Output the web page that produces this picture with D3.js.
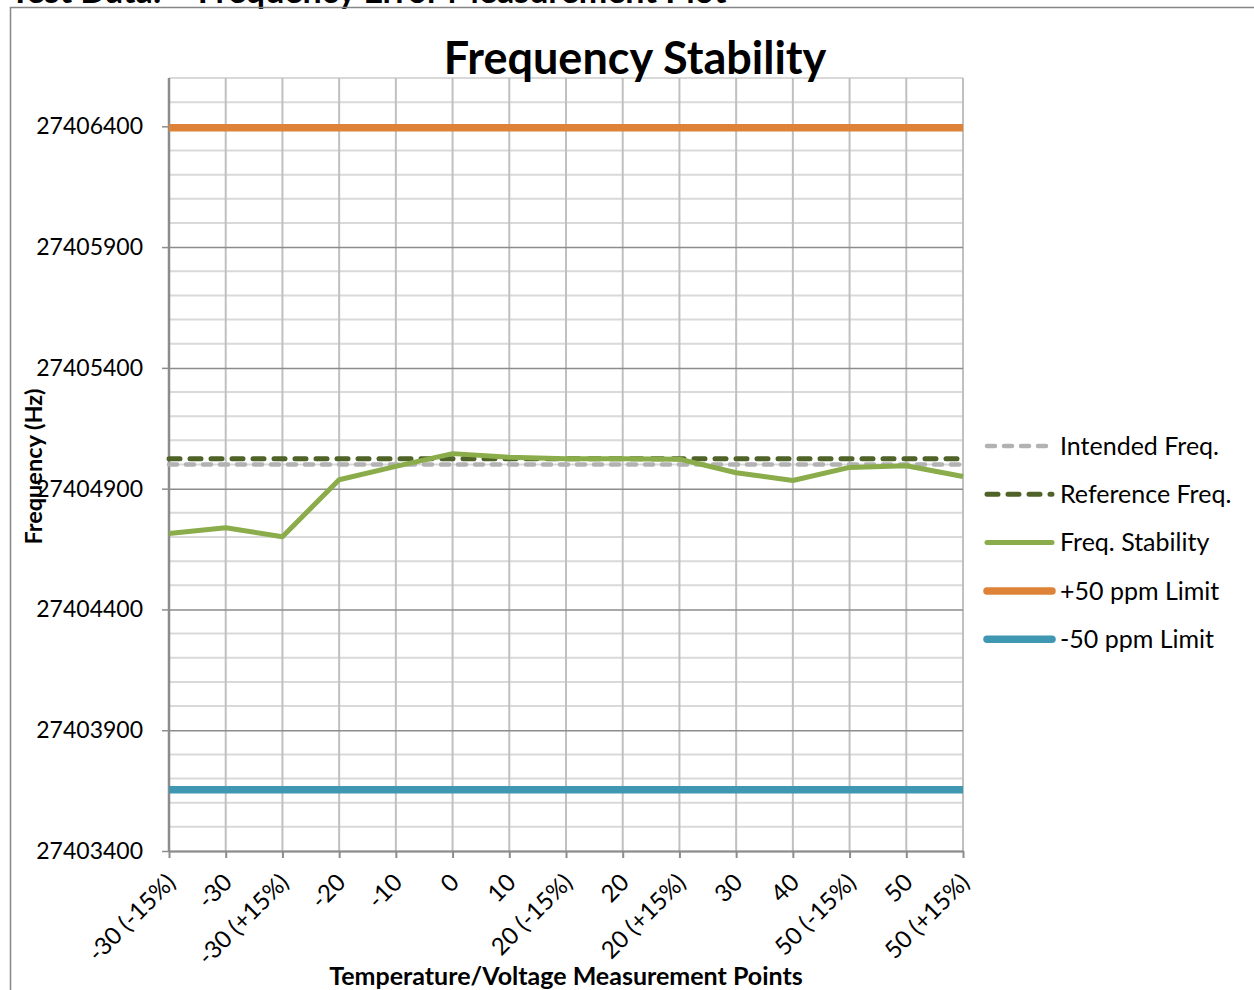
<!DOCTYPE html>
<html>
<head>
<meta charset="utf-8">
<script src="https://cdn.jsdelivr.net/npm/d3@7"></script>
<style>
  body { margin: 0; background: #fff; }
  text { font-family: Lato, "Open Sans", sans-serif; fill: #000; }
</style>
</head>
<body>
<script>
// data
var categories = ["-30 (-15%)", "-30", "-30 (+15%)", "-20", "-10", "0", "10",
                  "20 (-15%)", "20", "20 (+15%)", "30", "40", "50 (-15%)", "50", "50 (+15%)"];
var stabilityFreq = [27404714, 27404738, 27404701, 27404937, 27404992, 27405045, 27405030,
                     27405024, 27405024, 27405022, 27404966, 27404934, 27404988, 27404995, 27404950];
var intendedFreq = 27405000;
var referenceFreq = 27405024;
var plusLimit = 27406394;
var minusLimit = 27403654;
var yTicks = [27403400, 27403900, 27404400, 27404900, 27405400, 27405900, 27406400];
var yDomain = [27403400, 27406600];

var width = 1254, height = 990;
var plot = {left: 169, right: 963, top: 78, bottom: 851};

var svg = d3.select("body").append("svg")
    .attr("width", width)
    .attr("height", height);

// page header, cut off at the top like in the source
svg.append("text")
    .attr("x", 10).attr("y", 3)
    .style("font-size", "34px").style("font-weight", "bold")
    .text("Test Data: \u2013 Frequency Error Measurement Plot");

// chart frame
svg.append("rect")
    .attr("x", 10.5).attr("y", 7.5)
    .attr("width", 1300).attr("height", 1100)
    .attr("fill", "none")
    .attr("stroke", "#868686").attr("stroke-width", 1.5);

var x = d3.scalePoint()
    .domain(categories)
    .range([plot.left, plot.right])
    .padding(0);

var y = d3.scaleLinear()
    .domain(yDomain)
    .range([plot.bottom, plot.top]);

var grid = svg.append("g");

// minor horizontal grid every 100 Hz
grid.selectAll("line.minor")
    .data(d3.range(yDomain[0] + 100, yDomain[1] + 1, 100).filter(function(d){ return yTicks.indexOf(d) < 0; }))
    .enter().append("line")
    .attr("class", "minor")
    .attr("x1", plot.left).attr("x2", plot.right)
    .attr("y1", function(d){ return y(d); })
    .attr("y2", function(d){ return y(d); })
    .style("stroke", "#d9d9d9").style("stroke-width", 2);

// vertical grid
grid.selectAll("line.vert")
    .data(categories.slice(1))
    .enter().append("line")
    .attr("class", "vert")
    .attr("x1", function(d){ return x(d); })
    .attr("x2", function(d){ return x(d); })
    .attr("y1", plot.top).attr("y2", plot.bottom)
    .style("stroke", "#c0c0c0").style("stroke-width", 2);

// major horizontal grid + y axis
var yAxis = svg.append("g")
    .attr("transform", "translate(" + plot.left + ",0)")
    .call(d3.axisLeft(y)
        .tickValues(yTicks)
        .tickFormat(d3.format("d"))
        .tickSizeInner(-(plot.right - plot.left))
        .tickSizeOuter(0)
        .tickPadding(26));
yAxis.select("path.domain").remove();
yAxis.selectAll("g.tick line")
    .style("stroke", "#8c8c8c").style("stroke-width", 1.5);
yAxis.selectAll("g.tick")
    .append("line")
    .attr("x1", -7).attr("x2", 0)
    .style("stroke", "#8c8c8c").style("stroke-width", 1.5);
yAxis.selectAll("g.tick text")
    .style("font-size", "23px")
    .style("font-family", "Lato, sans-serif")
    .attr("fill", "#000");

// left axis line
svg.append("line")
    .attr("x1", plot.left).attr("x2", plot.left)
    .attr("y1", plot.top).attr("y2", plot.bottom)
    .style("stroke", "#8c8c8c").style("stroke-width", 2.5);

// x axis
var xAxis = svg.append("g")
    .attr("transform", "translate(0," + plot.bottom + ")")
    .call(d3.axisBottom(x).tickSizeInner(7).tickSizeOuter(0).tickFormat(""));
xAxis.select("path.domain")
    .style("stroke", "#8c8c8c").style("stroke-width", 2);
xAxis.selectAll("g.tick line")
    .style("stroke", "#8c8c8c").style("stroke-width", 2);

svg.append("g").selectAll("text")
    .data(categories)
    .enter().append("text")
    .attr("transform", function(d){ return "translate(" + (x(d) + 2) + "," + 878 + ") rotate(-45)"; })
    .attr("text-anchor", "end")
    .attr("dy", "0.35em")
    .style("font-size", "24px")
    .text(function(d){ return d; });

// series
var lines = svg.append("g");
var xFirst = x(categories[0]), xLast = x(categories[categories.length - 1]);

function hline(val, color, w, dash) {
    var l = lines.append("line")
        .attr("x1", xFirst).attr("x2", xLast)
        .attr("y1", y(val)).attr("y2", y(val))
        .style("stroke", color).style("stroke-width", w);
    if (dash) l.style("stroke-dasharray", dash).style("stroke-linecap", "round");
    return l;
}

hline(intendedFreq, "#b2b2b2", 4.5, "8,9");
hline(referenceFreq, "#4f6228", 5, "11,10");

lines.append("path")
    .datum(stabilityFreq)
    .attr("fill", "none")
    .attr("stroke", "#8aac4a")
    .attr("stroke-width", 5)
    .attr("stroke-linejoin", "round")
    .attr("d", d3.line()
        .x(function(d, i){ return x(categories[i]); })
        .y(function(d){ return y(d); }));

hline(plusLimit, "#dd8236", 7.5);
hline(minusLimit, "#3f97b1", 7.5);

// title
svg.append("text")
    .attr("x", 635).attr("y", 74)
    .attr("text-anchor", "middle")
    .style("font-size", "45px").style("font-weight", "bold")
    .text("Frequency Stability");

// axis titles
svg.append("text")
    .attr("transform", "translate(42," + ((plot.top + plot.bottom) / 2 + 2) + ") rotate(-90)")
    .attr("text-anchor", "middle")
    .style("font-size", "23.5px").style("font-weight", "bold")
    .text("Frequency (Hz)");

svg.append("text")
    .attr("x", (plot.left + plot.right) / 2).attr("y", 985)
    .attr("text-anchor", "middle")
    .style("font-size", "25px").style("font-weight", "bold")
    .text("Temperature/Voltage Measurement Points");

// legend
var legendItems = [
    {name: "Intended Freq.", color: "#b2b2b2", w: 4.5, dash: "8,9"},
    {name: "Reference Freq.", color: "#4f6228", w: 5, dash: "11,10"},
    {name: "Freq. Stability", color: "#8aac4a", w: 5, dash: null},
    {name: "+50 ppm Limit", color: "#dd8236", w: 7.5, dash: null},
    {name: "-50 ppm Limit", color: "#3f97b1", w: 7.5, dash: null}
];

var legend = svg.append("g").selectAll("g")
    .data(legendItems)
    .enter().append("g")
    .attr("transform", function(d, i){ return "translate(0," + (446 + i * 48.3) + ")"; });

legend.append("line")
    .attr("x1", 987).attr("x2", 1052)
    .style("stroke", function(d){ return d.color; })
    .style("stroke-width", function(d){ return d.w; })
    .style("stroke-linecap", "round")
    .style("stroke-dasharray", function(d){ return d.dash; });

legend.append("text")
    .attr("x", 1060).attr("dy", "0.35em")
    .style("font-size", "25px")
    .text(function(d){ return d.name; });
</script>
</body>
</html>
